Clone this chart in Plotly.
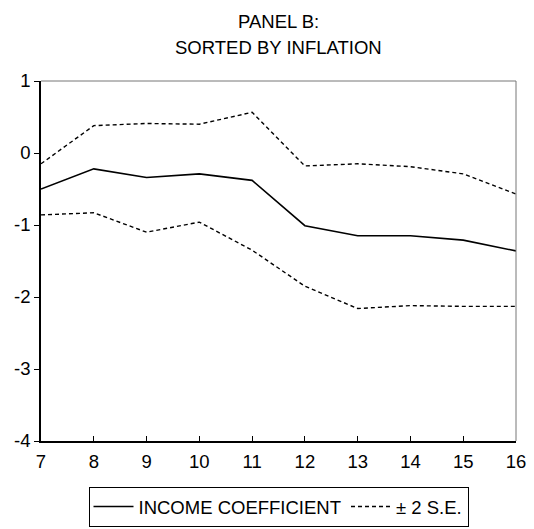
import plotly.graph_objects as go

# Income coefficient by inflation-sorted window, with +/- 2 standard-error bands
windows = [7, 8, 9, 10, 11, 12, 13, 14, 15, 16]
income_coef = [-0.50, -0.22, -0.34, -0.29, -0.38, -1.01, -1.15, -1.15, -1.21, -1.36]
upper_band = [-0.15, 0.38, 0.41, 0.40, 0.565, -0.18, -0.15, -0.19, -0.29, -0.57]
lower_band = [-0.86, -0.83, -1.10, -0.96, -1.35, -1.85, -2.16, -2.12, -2.13, -2.13]

x_ticks = [7, 8, 9, 10, 11, 12, 13, 14, 15, 16]
y_ticks = [1, 0, -1, -2, -3, -4]

FONT = "Liberation Sans, Arial, Helvetica, sans-serif"
FS = 18.5

fig = go.Figure()
fig.add_trace(go.Scatter(
    x=windows, y=income_coef, mode="lines", name="INCOME COEFFICIENT",
    line=dict(color="black", width=1.6),
))
fig.add_trace(go.Scatter(
    x=windows, y=upper_band, mode="lines", name="± 2 S.E.",
    line=dict(color="black", width=1.4, dash="4px,3px"),
    legendgroup="se",
))
fig.add_trace(go.Scatter(
    x=windows, y=lower_band, mode="lines", name="± 2 S.E.",
    line=dict(color="black", width=1.4, dash="4px,3px"),
    legendgroup="se", showlegend=False,
))

fig.update_layout(
    width=534, height=529,
    margin=dict(l=41, r=18, t=81, b=88, autoexpand=False),
    paper_bgcolor="white", plot_bgcolor="white",
    font=dict(family=FONT, size=FS, color="black"),
    showlegend=True,
    legend=dict(
        orientation="h", x=0.5, xanchor="center",
        yref="container", y=1 - 507 / 529, yanchor="middle",
        bordercolor="black", borderwidth=1, bgcolor="white",
        font=dict(family=FONT, size=FS, color="black"),
        itemwidth=40, tracegroupgap=0,
    ),
    xaxis=dict(
        range=[7, 16], tickvals=x_ticks, ticktext=[str(v) for v in x_ticks],
        ticks="inside", ticklen=5, tickwidth=1, tickcolor="black",
        ticklabelstandoff=3,
        showline=True, linecolor="black", linewidth=1.5,
        showgrid=False, zeroline=False,
        tickfont=dict(size=FS),
    ),
    yaxis=dict(
        range=[-4, 1], tickvals=y_ticks, ticktext=[str(v) for v in y_ticks],
        ticks="outside", ticklen=5, tickwidth=1, tickcolor="black",
        showline=True, linecolor="black", linewidth=1.5,
        showgrid=False, zeroline=False,
        tickfont=dict(size=FS),
    ),
    annotations=[
        dict(text="PANEL B:", x=0.5, y=1.164, xref="paper", yref="paper",
             xanchor="center", yanchor="middle", showarrow=False,
             font=dict(family=FONT, size=FS)),
        dict(text="SORTED BY INFLATION", x=0.5, y=1.094, xref="paper", yref="paper",
             xanchor="center", yanchor="middle", showarrow=False,
             font=dict(family=FONT, size=FS)),
    ],
    shapes=[
        dict(type="line", xref="paper", yref="paper", x0=0, x1=1, y0=1, y1=1,
             line=dict(color="#777777", width=1)),
        dict(type="line", xref="paper", yref="paper", x0=1, x1=1, y0=0, y1=1,
             line=dict(color="#777777", width=1)),
    ],
)

fig.write_html("out.html")
